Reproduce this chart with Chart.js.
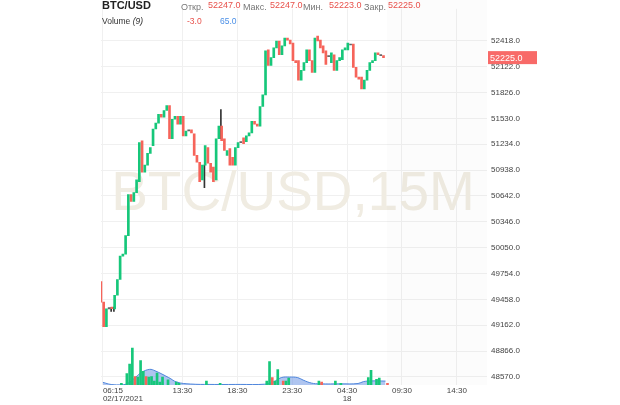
<!DOCTYPE html>
<html>
<head>
<meta charset="utf-8">
<script src="https://cdn.jsdelivr.net/npm/chart.js@4.4.1/dist/chart.umd.min.js"></script>
<style>
  html, body { margin: 0; padding: 0; background: #fff; }
  body { width: 620px; height: 405px; position: relative; overflow: hidden; font-family: "Liberation Sans", Arial, sans-serif; }
  #chart { position: absolute; left: 0; top: 0; }
  .hd { position: absolute; white-space: nowrap; line-height: 10px; }
  .title { left: 102px; top: 0px; font-size: 11px; font-weight: bold; color: #222; }
  .lbl { font-size: 9px; color: #777; top: 2px; }
  .num { font-size: 9px; color: #e8514b; top: 0px; }
  .vol { left: 102px; top: 16px; font-size: 8.5px; color: #333; }
  .vnum { top: 16px; font-size: 8.5px; }
</style>
</head>
<body>
<canvas id="chart" width="620" height="405"></canvas>
<div class="hd title">BTC/USD</div>
<div class="hd lbl" style="left:181px">Откр.</div>
<div class="hd num" style="left:208px">52247.0</div>
<div class="hd lbl" style="left:243px">Макс.</div>
<div class="hd num" style="left:270px">52247.0</div>
<div class="hd lbl" style="left:303px">Мин.</div>
<div class="hd num" style="left:329px">52223.0</div>
<div class="hd lbl" style="left:364px">Закр.</div>
<div class="hd num" style="left:388px">52225.0</div>
<div class="hd vol">Volume <i>(9)</i></div>
<div class="hd vnum" style="left:187px;color:#e8514b">-3.0</div>
<div class="hd vnum" style="left:220px;color:#4a8fe7">65.0</div>
<script>
// 15-minute candles, index 0 = 02/17 06:15
const opens = [
  49662, 49425, 49145, 49349, 49370, 49349, 49505, 49685, 49953, 49975,
  50188, 50658, 50580, 50680, 50804, 51273, 50915, 50994, 51128, 51218,
  51408, 51475, 51576, 51542, 51620, 51676, 51296, 51519, 51553, 51463,
  51553, 51330, 51385, 51397, 51352, 51106, 51027, 50826, 50994, 51195,
  51016, 50971, 50826, 51296, 51441, 51296, 51106, 51184, 51083, 50994,
  51195, 51251, 51307, 51262, 51330, 51363, 51497, 51463, 51441, 51665,
  51799, 52314, 52135, 52225, 52336, 52415, 52258, 52359, 52448, 52426,
  52392, 52191, 52191, 51967, 52079, 52168, 52314, 52191, 52057, 52471,
  52426, 52359, 52303, 52236, 52168, 52258, 52079, 52191, 52202, 52314,
  52314, 52370, 52381, 52113, 52001, 52001, 51866, 51967, 52079, 52168,
  52191, 52280, 52258, 52247,
];
const closes = [
  49425, 49145, 49349, 49362, 49352, 49505, 49685, 49953, 49975, 50188,
  50658, 50580, 50680, 50826, 51251, 50915, 50994, 51128, 51195, 51408,
  51475, 51576, 51542, 51620, 51676, 51296, 51519, 51553, 51463, 51553,
  51330, 51385, 51397, 51363, 51106, 51027, 50804, 50994, 51218, 51016,
  50915, 50804, 51296, 51441, 51273, 51162, 51162, 50994, 50994, 51195,
  51251, 51262, 51240, 51330, 51363, 51497, 51463, 51441, 51665, 51799,
  52303, 52135, 52225, 52336, 52415, 52258, 52359, 52448, 52426, 52381,
  52191, 52168, 51967, 52079, 52168, 52314, 52191, 52057, 52448, 52415,
  52336, 52280, 52146, 52247, 52280, 52079, 52191, 52225, 52314, 52336,
  52392, 52381, 52113, 52001, 51979, 51866, 51967, 52079, 52168, 52191,
  52280, 52258, 52247, 52225,
];

// visible wicks only
const wickIndex = [3, 4, 37, 43];
const wickLow = [49320, 49320, 50737, 51296];
const wickHigh = [49362, 49370, 50994, 51631];

const volIndex = [6, 8, 9, 10, 11, 12, 13, 14, 15, 16, 17, 18, 19, 20, 21, 23, 26, 27, 37, 42,
  59, 60, 61, 62, 63, 65, 66, 67, 78, 79, 84, 86, 96, 97, 99, 100, 103];
const volValues = [3, 20, 37, 65, 15, 14, 43, 24, 15, 14, 15, 7, 21, 5, 14, 9, 5, 3, 7, 3,
  7, 41, 13, 7, 27, 7, 7, 12, 7, 5, 7, 3, 13, 26, 10, 12, 3];

// Volume (9) moving average
const maIndex = [0, 3, 7, 9, 12, 14, 17, 19, 24, 27, 32, 39, 50, 59, 62, 65, 68, 71, 73, 76, 79, 87, 93, 95, 98, 103];
const maValues = [4.6, 0.9, 0.5, 2.6, 14, 22, 27.5, 25, 13, 5, 1.7, 1, 1, 1.4, 5, 13, 14, 13, 8.6, 3.4, 2, 2, 2.6, 6, 7.2, 6.9];

const priceTicks = [48570, 48866, 49162, 49458, 49754, 50050, 50346, 50642, 50938, 51234, 51530, 51826, 52122, 52418];
const timeTickIndex = [0, 29, 49, 69, 89, 109, 129];
const timeLabels = [["06:15", "02/17/2021"], ["13:30"], ["18:30"], ["23:30"], ["04:30", "18"], ["09:30"], ["14:30"]];
const lastPrice = 52225;
const watermark = "BTC/USD,15M";

const GREEN = "#16c77a";
const RED = "#f6645a";
const DOJI = "#666";

function candleColor(i) {
  const diff = closes[i] - opens[i];
  if (Math.abs(diff) < 15) return DOJI;
  return diff > 0 ? GREEN : RED;
}

const backgroundPlugin = {
  id: "background",
  beforeDatasetsDraw(chart) {
    const { ctx, chartArea, scales } = chart;
    ctx.save();
    // watermark
    ctx.font = '55px "Liberation Sans", Arial, sans-serif';
    ctx.fillStyle = "#f0ece2";
    ctx.textAlign = "center";
    ctx.textBaseline = "alphabetic";
    ctx.fillText(watermark, (chartArea.left + chartArea.right) / 2 - 1, 210);
    // area after the last candle
    const fx = scales.x.getPixelForValue(opens.length - 0.5);
    ctx.fillStyle = "rgba(0,0,0,0.012)";
    ctx.fillRect(fx, 0, chartArea.right - fx, chartArea.bottom);
    ctx.restore();
  },
  afterDraw(chart) {
    const { ctx, chartArea, scales } = chart;
    ctx.save();
    // time labels
    ctx.font = '8px "Liberation Sans", Arial, sans-serif';
    ctx.fillStyle = "#444";
    ctx.textBaseline = "middle";
    timeTickIndex.forEach((idx, k) => {
      const px = scales.x.getPixelForValue(idx);
      ctx.textAlign = k === 0 ? "left" : "center";
      const x = k === 0 ? px : px;
      timeLabels[k].forEach((line, j) => {
        ctx.fillText(line, x, 391 + j * 8);
      });
    });
    // last price tag
    const py = scales.y.getPixelForValue(lastPrice);
    ctx.fillStyle = "#f86a68";
    ctx.fillRect(chartArea.right + 1, py - 6.5, 49, 13);
    ctx.fillStyle = "#fff";
    ctx.textAlign = "left";
    ctx.font = '9px "Liberation Sans", Arial, sans-serif';
    ctx.fillText(lastPrice.toFixed(1), chartArea.right + 3, py + 0.5);
    ctx.restore();
  },
};

new Chart(document.getElementById("chart"), {
  type: "bar",
  data: {
    datasets: [
      {
        label: "candles",
        data: opens.map((o, i) => ({ x: i, y: [o, closes[i]] })),
        backgroundColor: (c) => candleColor(c.dataIndex),
        barThickness: 2,
        minBarLength: 1,
        order: 1,
      },
      {
        label: "wicks",
        data: wickIndex.map((idx, k) => ({ x: idx, y: [wickLow[k], wickHigh[k]] })),
        backgroundColor: "#333",
        barThickness: 1,
        order: 2,
      },
      {
        label: "volume",
        yAxisID: "yVol",
        data: volIndex.map((idx, k) => ({ x: idx, y: volValues[k] })),
        backgroundColor: (c) => candleColor(volIndex[c.dataIndex]),
        barThickness: 2,
        order: 4,
      },
      {
        label: "Volume (9)",
        type: "line",
        yAxisID: "yVol",
        data: maIndex.map((idx, k) => ({ x: idx, y: maValues[k] })),
        borderColor: "#4f86dc",
        borderWidth: 1,
        backgroundColor: "rgba(95,140,225,0.5)",
        fill: "origin",
        tension: 0.4,
        pointRadius: 0,
        order: 5,
      },
    ],
  },
  options: {
    responsive: false,
    animation: false,
    devicePixelRatio: 1,
    layout: { padding: { left: 101, top: 0, right: 0, bottom: 0 } },
    plugins: { legend: { display: false }, tooltip: { enabled: false } },
    scales: {
      x: {
        type: "linear",
        min: -0.7,
        max: 140,
        offset: false,
        afterBuildTicks(scale) {
          scale.ticks = timeTickIndex.map((v) => ({ value: v }));
        },
        afterFit(scale) {
          scale.height = 20;
        },
        ticks: { display: false },
        grid: { color: "#f0f0f0", offset: false, drawTicks: false },
        border: { display: false },
      },
      y: {
        position: "right",
        min: 48477,
        max: 52784,
        afterBuildTicks(scale) {
          scale.ticks = priceTicks.map((v) => ({ value: v }));
        },
        afterFit(scale) {
          scale.width = 133;
        },
        ticks: {
          padding: 4,
          color: "#444",
          font: { size: 8, family: '"Liberation Sans", Arial, sans-serif' },
          callback: (v) => Number(v).toFixed(1),
        },
        grid: { color: "#f0f0f0", drawTicks: false },
        border: { display: false },
      },
      yVol: {
        display: false,
        min: 0,
        max: 662,
      },
    },
  },
  plugins: [backgroundPlugin],
});
</script>
</body>
</html>
